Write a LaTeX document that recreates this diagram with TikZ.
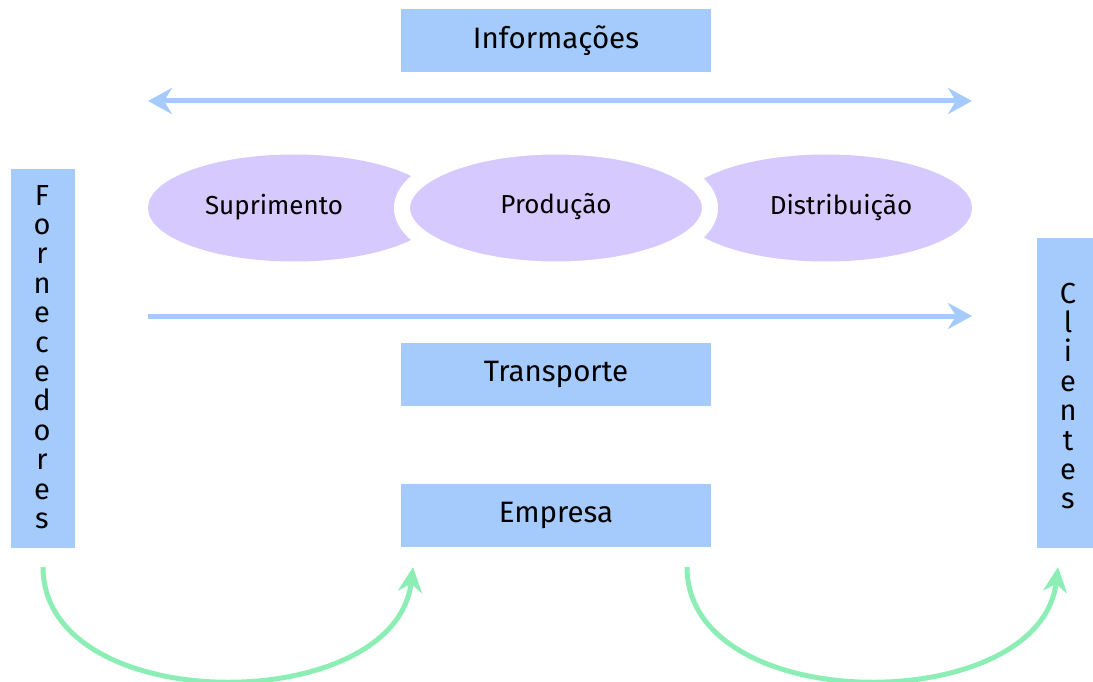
\documentclass[tikz,border=0pt]{standalone}
\usepackage{fontspec}
\setmainfont{Fira Sans}
\usetikzlibrary{arrows.meta,shapes.geometric}
\definecolor{boxblue}{HTML}{A4CBFC}
\definecolor{ellpurple}{HTML}{D6C9FE}
\definecolor{arrgreen}{HTML}{8CEEB5}
\tikzset{
  box/.style={fill=boxblue, draw=none, inner sep=0pt, font=\fontsize{29.5}{33}\selectfont},
  ell/.style={ellipse, fill=ellpurple, inner sep=0pt},
  elltext/.style={font=\fontsize{26}{30}\selectfont, inner sep=0pt},
  vletter/.style={anchor=base, inner sep=0pt, font=\fontsize{29}{33}\selectfont},
  bluetip/.tip={Stealth[length=24pt,width=26pt,inset=8pt]},
  bluearrow/.style={draw=boxblue, line width=5pt, -bluetip},
  greenarrow/.style={draw=arrgreen, line width=5pt, -{Stealth[length=25pt,width=24pt,inset=8pt]}},
}
\begin{document}
\begin{tikzpicture}[x=1pt,y=-1pt]
\useasboundingbox (0,0) rectangle (1093,682);
% boxes
\node[box, minimum width=310pt, minimum height=63pt] (info) at (556,40.5) {Informações};
\node[box, minimum width=310pt, minimum height=63pt] (trans) at (556,374.5) {Transporte};
\node[box, minimum width=310pt, minimum height=63pt] (emp) at (556,515.5) {Empresa};
\node[box, minimum width=64pt, minimum height=379pt] (forn) at (43,358.5) {};
\node[box, minimum width=56pt, minimum height=310pt] (cli) at (1065,393) {};
\foreach \l [count=\i] in {F,o,r,n,e,c,e,d,o,r,e,s}
  \node[vletter] (fl\i) at (42,{205+29.4*(\i-1)}) {\l};
\foreach \l [count=\i] in {C,l,i,e,n,t,e,s}
  \node[vletter] (cl\i) at (1068,{303+29.4*(\i-1)}) {\l};
% ellipses
\node[ell, minimum width=292pt, minimum height=107pt] (sup) at (294,208) {};
\node[ell, minimum width=292pt, minimum height=107pt] (dist) at (826,208) {};
\node[ell, draw=white, line width=16pt, minimum width=308pt, minimum height=123pt] (prod) at (556,208) {};
\node[elltext] (supt) at (274,207) {Suprimento};
\node[elltext] (prodt) at (556,207) {Produção};
\node[elltext] (distt) at (841,207) {Distribuição};
% blue arrows
\coordinate (a1) at (148,101);
\coordinate (a2) at (972,101);
\coordinate (b1) at (148,316);
\coordinate (b2) at (972,316);
\draw[bluearrow, bluetip-bluetip] (a1) -- (a2);
\draw[bluearrow] (b1) -- (b2);
% green arrows
\coordinate (g1) at (43,567);
\coordinate (g2) at (413,567);
\coordinate (g3) at (687,567);
\coordinate (g4) at (1058,567);
\draw[greenarrow] (g1) .. controls (43,718) and (395,718) .. (g2);
\draw[greenarrow] (g3) .. controls (687,718) and (1040,718) .. (g4);
\end{tikzpicture}
\end{document}
